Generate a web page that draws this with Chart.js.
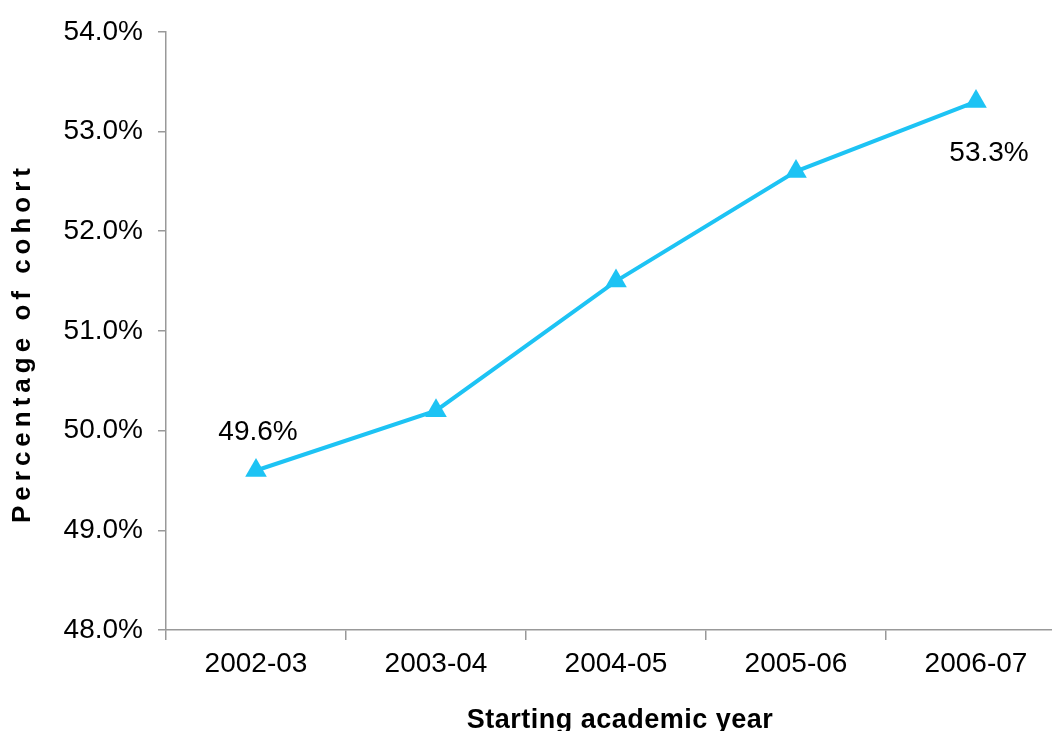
<!DOCTYPE html>
<html>
<head>
<meta charset="utf-8">
<script src="https://cdn.jsdelivr.net/npm/chart.js@4/dist/chart.umd.min.js"></script>
<style>
  html, body { margin: 0; padding: 0; background: #fff; overflow: hidden; width: 1052px; height: 731px; }
  #clip { position: relative; width: 1052px; height: 731px; overflow: hidden; }
  canvas { display: block; position: absolute; left: 0; top: 0; }
</style>
</head>
<body>
<div id="clip"><canvas id="c" width="1066" height="731" style="width:1066px;height:731px"></canvas></div>
<script>
const categories = ['2002-03', '2003-04', '2004-05', '2005-06', '2006-07'];
const values = [49.6, 50.2, 51.5, 52.6, 53.3];
const yTickValues = [48, 49, 50, 51, 52, 53, 54];
const yTickLabels = ['48.0%', '49.0%', '50.0%', '51.0%', '52.0%', '53.0%', '54.0%'];
const labelledPoints = [0, 4];
const pointLabels = ['49.6%', '53.3%'];
const xTitle = 'Starting academic year';
const yTitle = 'Percentage of cohort';

const FONT = '"Liberation Sans", Arial, sans-serif';
const LINE = '#1DC3F4';
const AXIS = '#999999';

const extras = {
  id: 'extras',
  afterDraw(chart) {
    const ctx = chart.ctx;
    const meta = chart.getDatasetMeta(0);
    ctx.save();
    ctx.fillStyle = '#000';
    // data labels
    ctx.font = '28px ' + FONT;
    ctx.textAlign = 'center';
    ctx.textBaseline = 'middle';
    const offs = [[2, -38], [13, 52]];
    labelledPoints.forEach((idx, k) => {
      const p = meta.data[idx];
      ctx.fillText(pointLabels[k], p.x + offs[k][0], p.y + offs[k][1]);
    });
    // x title
    ctx.font = 'bold 27px ' + FONT;
    ctx.letterSpacing = '0.5px';
    ctx.textBaseline = 'alphabetic';
    ctx.fillText(xTitle, 620, 728);
    // y title
    ctx.font = 'bold 26px ' + FONT;
    ctx.letterSpacing = '5px';
    ctx.translate(23, 343);
    ctx.rotate(-Math.PI / 2);
    ctx.textBaseline = 'middle';
    ctx.fillText(yTitle, 0, 0);
    ctx.restore();
  }
};

new Chart(document.getElementById('c'), {
  type: 'line',
  data: {
    labels: categories,
    datasets: [{
      data: values,
      borderColor: LINE,
      backgroundColor: LINE,
      borderWidth: 4,
      pointStyle: 'triangle',
      pointRadius: 12.5,
      pointHoverRadius: 12.5,
      pointBorderWidth: 0,
      tension: 0,
      fill: false,
      clip: false
    }]
  },
  options: {
    responsive: false,
    animation: false,
    events: [],
    devicePixelRatio: 1,
    layout: { autoPadding: false, padding: { top: 30, right: 0, bottom: 0, left: 0 } },
    plugins: { legend: { display: false }, tooltip: { enabled: false } },
    scales: {
      x: {
        type: 'category',
        offset: true,
        grid: { offset: true, drawOnChartArea: false, drawTicks: true, tickLength: 10, color: AXIS, lineWidth: 1.5 },
        border: { display: true, color: AXIS, width: 1.5 },
        ticks: { color: '#000', font: { family: FONT, size: 28 }, padding: 7, maxRotation: 0, autoSkip: false },
        afterFit(scale) { scale.height = 101; scale.paddingRight = 0; scale.paddingLeft = 0; }
      },
      y: {
        min: 48,
        max: 54,
        afterBuildTicks(scale) { scale.ticks = yTickValues.map(v => ({ value: v })); },
        grid: { drawOnChartArea: false, drawTicks: true, tickLength: 8, color: AXIS, lineWidth: 1.5 },
        border: { display: true, color: AXIS, width: 1.5 },
        ticks: {
          color: '#000',
          font: { family: FONT, size: 28 },
          padding: 15,
          callback(value) { const i = yTickValues.indexOf(value); return i >= 0 ? yTickLabels[i] : ''; }
        },
        afterFit(scale) { scale.width = 166; }
      }
    }
  },
  plugins: [extras]
});
</script>
</body>
</html>
